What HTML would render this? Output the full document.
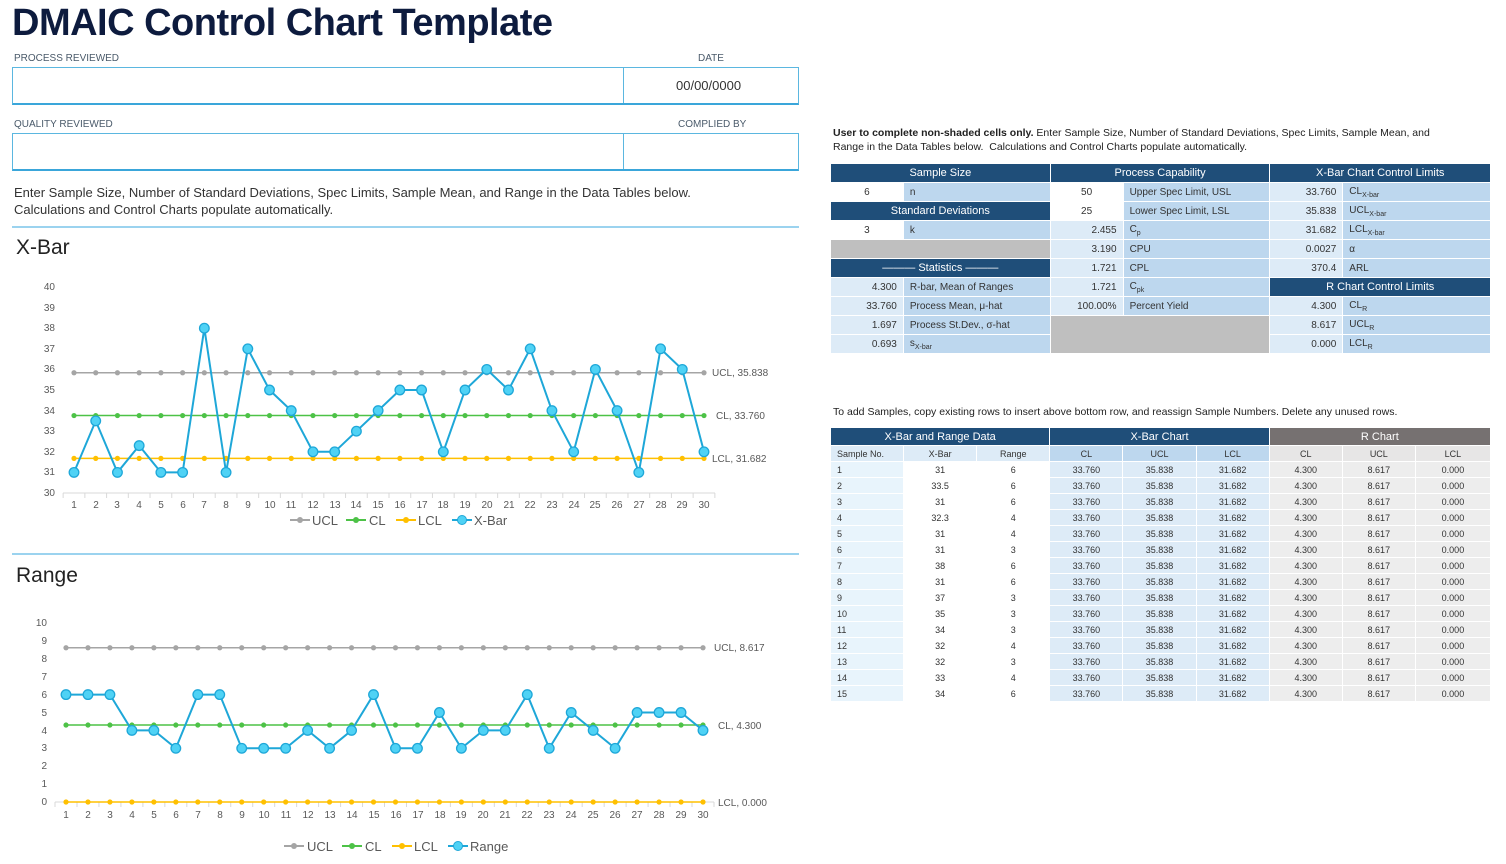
<!DOCTYPE html>
<html><head><meta charset="utf-8"><style>
body{margin:0;width:1506px;height:864px;background:#fff;font-family:"Liberation Sans",sans-serif;position:relative;overflow:hidden;color:#333}
.a{position:absolute}
h1{position:absolute;left:12px;top:2px;margin:0;font-size:38px;font-weight:bold;color:#0d1b3e;letter-spacing:-0.5px}
.lbl{font-size:10px;color:#4a5a6a}
.box{position:absolute;border:1px solid #5bb7e0;border-bottom:2px solid #3aa6da}
table{border-collapse:collapse;position:absolute;font-size:10px}
td{padding:0 6px;white-space:nowrap;border:1px solid #fff}
.h{background:#1f4e79;color:#fff;text-align:center;font-size:11px}
.w{background:#fff}.lb{background:#bdd7ee}.ll{background:#ddebf7}.g{background:#bfbfbf}
.r{text-align:right}.c{text-align:center}
sub{font-size:7px}
</style></head><body>
<h1>DMAIC Control Chart Template</h1>
<div class="a lbl" style="left:14px;top:53px">PROCESS REVIEWED</div>
<div class="a lbl" style="left:698px;top:53px">DATE</div>
<div class="box" style="left:12px;top:67px;width:785px;height:35px"></div>
<div class="a" style="left:623px;top:67px;width:1px;height:36px;background:#5bb7e0"></div>
<div class="a" style="left:676px;top:78px;font-size:13px">00/00/0000</div>
<div class="a lbl" style="left:14px;top:119px">QUALITY REVIEWED</div>
<div class="a lbl" style="left:678px;top:119px">COMPLIED BY</div>
<div class="box" style="left:12px;top:133px;width:785px;height:35px"></div>
<div class="a" style="left:623px;top:133px;width:1px;height:36px;background:#5bb7e0"></div>
<div class="a" style="left:14px;top:184px;font-size:13px;line-height:17px">Enter Sample Size, Number of Standard Deviations, Spec Limits, Sample Mean, and Range in the Data Tables below.<br>Calculations and Control Charts populate automatically.</div>
<div class="a" style="left:12px;top:226px;width:787px;height:2px;background:#9bd3ef"></div>
<div class="a" style="left:16px;top:236px;font-size:21px;color:#222">X-Bar</div>
<div class="a" style="left:12px;top:553px;width:787px;height:2px;background:#9bd3ef"></div>
<div class="a" style="left:16px;top:564px;font-size:21px;color:#222">Range</div>

<svg class="a" style="left:0;top:0" width="830" height="864" font-family="Liberation Sans, sans-serif" font-size="10" fill="#595959">
<g id="xb"></g><g id="rg"></g>
<g text-anchor="end">
<text x="55" y="290">40</text><text x="55" y="311">39</text><text x="55" y="331">38</text><text x="55" y="352">37</text><text x="55" y="372">36</text><text x="55" y="393">35</text><text x="55" y="414">34</text><text x="55" y="434">33</text><text x="55" y="455">32</text><text x="55" y="475">31</text><text x="55" y="496">30</text>
<text x="47" y="626">10</text><text x="47" y="644">9</text><text x="47" y="662">8</text><text x="47" y="680">7</text><text x="47" y="698">6</text><text x="47" y="716">5</text><text x="47" y="734">4</text><text x="47" y="751">3</text><text x="47" y="769">2</text><text x="47" y="787">1</text><text x="47" y="805">0</text>
</g>
<g text-anchor="middle" id="xl"></g>
<text x="712" y="376">UCL, 35.838</text><text x="716" y="419">CL, 33.760</text><text x="712" y="462">LCL, 31.682</text>
<text x="714" y="651">UCL, 8.617</text><text x="718" y="729">CL, 4.300</text><text x="718" y="806">LCL, 0.000</text>
<g font-size="13">
<line x1="290" y1="520" x2="310" y2="520" stroke="#a5a5a5" stroke-width="2"/><circle cx="300" cy="520" r="3" fill="#a5a5a5"/><text x="312" y="525">UCL</text>
<line x1="346" y1="520" x2="366" y2="520" stroke="#4dc247" stroke-width="2"/><circle cx="356" cy="520" r="3" fill="#4dc247"/><text x="369" y="525">CL</text>
<line x1="396" y1="520" x2="416" y2="520" stroke="#ffc000" stroke-width="2"/><circle cx="406" cy="520" r="3" fill="#ffc000"/><text x="418" y="525">LCL</text>
<line x1="452" y1="520" x2="472" y2="520" stroke="#1ea7d8" stroke-width="2"/><circle cx="462" cy="520" r="4.5" fill="#4fd2f5" stroke="#1ea7d8"/><text x="474" y="525">X-Bar</text>
<line x1="284" y1="846" x2="304" y2="846" stroke="#a5a5a5" stroke-width="2"/><circle cx="294" cy="846" r="3" fill="#a5a5a5"/><text x="307" y="851">UCL</text>
<line x1="342" y1="846" x2="362" y2="846" stroke="#4dc247" stroke-width="2"/><circle cx="352" cy="846" r="3" fill="#4dc247"/><text x="365" y="851">CL</text>
<line x1="392" y1="846" x2="412" y2="846" stroke="#ffc000" stroke-width="2"/><circle cx="402" cy="846" r="3" fill="#ffc000"/><text x="414" y="851">LCL</text>
<line x1="448" y1="846" x2="468" y2="846" stroke="#1ea7d8" stroke-width="2"/><circle cx="458" cy="846" r="4.5" fill="#4fd2f5" stroke="#1ea7d8"/><text x="470" y="851">Range</text>
</g>
<g id="xl1" text-anchor="middle">
<text x="74" y="508">1</text><text x="96" y="508">2</text><text x="117" y="508">3</text><text x="139" y="508">4</text><text x="161" y="508">5</text><text x="183" y="508">6</text><text x="204" y="508">7</text><text x="226" y="508">8</text><text x="248" y="508">9</text><text x="270" y="508">10</text><text x="291" y="508">11</text><text x="313" y="508">12</text><text x="335" y="508">13</text><text x="356" y="508">14</text><text x="378" y="508">15</text><text x="400" y="508">16</text><text x="422" y="508">17</text><text x="443" y="508">18</text><text x="465" y="508">19</text><text x="487" y="508">20</text><text x="509" y="508">21</text><text x="530" y="508">22</text><text x="552" y="508">23</text><text x="574" y="508">24</text><text x="595" y="508">25</text><text x="617" y="508">26</text><text x="639" y="508">27</text><text x="661" y="508">28</text><text x="682" y="508">29</text><text x="704" y="508">30</text>
<text x="66" y="818">1</text><text x="88" y="818">2</text><text x="110" y="818">3</text><text x="132" y="818">4</text><text x="154" y="818">5</text><text x="176" y="818">6</text><text x="198" y="818">7</text><text x="220" y="818">8</text><text x="242" y="818">9</text><text x="264" y="818">10</text><text x="286" y="818">11</text><text x="308" y="818">12</text><text x="330" y="818">13</text><text x="352" y="818">14</text><text x="374" y="818">15</text><text x="396" y="818">16</text><text x="418" y="818">17</text><text x="440" y="818">18</text><text x="461" y="818">19</text><text x="483" y="818">20</text><text x="505" y="818">21</text><text x="527" y="818">22</text><text x="549" y="818">23</text><text x="571" y="818">24</text><text x="593" y="818">25</text><text x="615" y="818">26</text><text x="637" y="818">27</text><text x="659" y="818">28</text><text x="681" y="818">29</text><text x="703" y="818">30</text>
</g>
</svg>
<script>
(function(){
var NS="http://www.w3.org/2000/svg";
function el(p,t,a){var e=document.createElementNS(NS,t);for(var k in a)e.setAttribute(k,a[k]);p.appendChild(e);return e;}
function chart(g,x0,dx,yf,data,ucl,cl,lcl,axL,axR,axY){
 el(g,'line',{x1:axL,y1:axY,x2:axR,y2:axY,stroke:'#d9d9d9','stroke-width':1});
 for(var i=0;i<=30;i++){var x=x0-dx/2+i*dx;el(g,'line',{x1:x,y1:axY,x2:x,y2:axY+5,stroke:'#d9d9d9'});}
 [[ucl,'#a5a5a5'],[cl,'#4dc247'],[lcl,'#ffc000']].forEach(function(s){
  var y=yf(s[0]);el(g,'line',{x1:x0,y1:y,x2:x0+29*dx,y2:y,stroke:s[1],'stroke-width':1.5});
  for(var i=0;i<30;i++)el(g,'circle',{cx:x0+i*dx,cy:y,r:2.6,fill:s[1]});
 });
 var pts=data.map(function(v,i){return (x0+i*dx)+','+yf(v);}).join(' ');
 el(g,'polyline',{points:pts,fill:'none',stroke:'#1ea7d8','stroke-width':2});
 data.forEach(function(v,i){el(g,'circle',{cx:x0+i*dx,cy:yf(v),r:4.8,fill:'#4fd2f5',stroke:'#1ea7d8','stroke-width':1.3});});
}
var xb=[31,33.5,31,32.3,31,31,38,31,37,35,34,32,32,33,34,35,35,32,35,36,35,37,34,32,36,34,31,37,36,32];
var rg=[6,6,6,4,4,3,6,6,3,3,3,4,3,4,6,3,3,5,3,4,4,6,3,5,4,3,5,5,5,4];
chart(document.getElementById('xb'),74,630/29,function(v){return 493-(v-30)*20.6;},xb,35.838,33.76,31.682,63,715,493);
chart(document.getElementById('rg'),66,637/29,function(v){return 802-v*17.9;},rg,8.617,4.3,0,55,714,802);
})();
</script>

<div class="a" style="left:833px;top:126px;font-size:10.5px;line-height:14px;color:#222"><b>User to complete non-shaded cells only.</b> Enter Sample Size, Number of Standard Deviations, Spec Limits, Sample Mean, and<br>Range in the Data Tables below.&nbsp; Calculations and Control Charts populate automatically.</div>

<table style="left:830px;top:163px;width:661px">
<colgroup><col style="width:73px"><col style="width:147px"><col style="width:73px"><col style="width:147px"><col style="width:73px"><col style="width:148px"></colgroup>
<tr style="height:19px"><td class="h" colspan="2">Sample Size</td><td class="h" colspan="2">Process Capability</td><td class="h" colspan="2">X-Bar Chart Control Limits</td></tr>
<tr style="height:19px"><td class="w c">6</td><td class="lb">n</td><td class="w c">50</td><td class="lb">Upper Spec Limit, USL</td><td class="ll r">33.760</td><td class="lb">CL<sub>X-bar</sub></td></tr>
<tr style="height:19px"><td class="h" colspan="2">Standard Deviations</td><td class="w c">25</td><td class="lb">Lower Spec Limit, LSL</td><td class="ll r">35.838</td><td class="lb">UCL<sub>X-bar</sub></td></tr>
<tr style="height:19px"><td class="w c">3</td><td class="lb">k</td><td class="ll r">2.455</td><td class="lb">C<sub>p</sub></td><td class="ll r">31.682</td><td class="lb">LCL<sub>X-bar</sub></td></tr>
<tr style="height:19px"><td class="g" colspan="2"></td><td class="ll r">3.190</td><td class="lb">CPU</td><td class="ll r">0.0027</td><td class="lb">α</td></tr>
<tr style="height:19px"><td class="h" colspan="2">——— Statistics ———</td><td class="ll r">1.721</td><td class="lb">CPL</td><td class="ll r">370.4</td><td class="lb">ARL</td></tr>
<tr style="height:19px"><td class="ll r">4.300</td><td class="lb">R-bar, Mean of Ranges</td><td class="ll r">1.721</td><td class="lb">C<sub>pk</sub></td><td class="h" colspan="2">R Chart Control Limits</td></tr>
<tr style="height:19px"><td class="ll r">33.760</td><td class="lb">Process Mean, μ-hat</td><td class="ll r">100.00%</td><td class="lb">Percent Yield</td><td class="ll r">4.300</td><td class="lb">CL<sub>R</sub></td></tr>
<tr style="height:19px"><td class="ll r">1.697</td><td class="lb">Process St.Dev., σ-hat</td><td class="g" colspan="2" rowspan="2"></td><td class="ll r">8.617</td><td class="lb">UCL<sub>R</sub></td></tr>
<tr style="height:19px"><td class="ll r">0.693</td><td class="lb">s<sub>X-bar</sub></td><td class="ll r">0.000</td><td class="lb">LCL<sub>R</sub></td></tr>
</table>

<div class="a" style="left:833px;top:406px;font-size:10.5px;color:#222">To add Samples, copy existing rows to insert above bottom row, and reassign Sample Numbers. Delete any unused rows.</div>

<table style="left:830px;top:427px;width:661px;font-size:9px" id="dt">
<colgroup><col style="width:73px"><col style="width:73px"><col style="width:73px"><col style="width:73px"><col style="width:73px"><col style="width:73px"><col style="width:73px"><col style="width:73px"><col style="width:75px"></colgroup>
<tr style="height:18px"><td class="h" colspan="3">X-Bar and Range Data</td><td class="h" colspan="3">X-Bar Chart</td><td class="h" colspan="3" style="background:#767171">R Chart</td></tr>
<tr style="height:16px"><td class="ll">Sample No.</td><td class="ll c">X-Bar</td><td class="ll c">Range</td><td class="lb c">CL</td><td class="lb c">UCL</td><td class="lb c">LCL</td><td class="c" style="background:#e7e6e6">CL</td><td class="c" style="background:#e7e6e6">UCL</td><td class="c" style="background:#e7e6e6">LCL</td></tr>
<tr style="height:16px"><td style="background:#e8f4fc">1</td><td class="w c">31</td><td class="w c">6</td><td class="ll c">33.760</td><td class="ll c">35.838</td><td class="ll c">31.682</td><td class="c" style="background:#ededed">4.300</td><td class="c" style="background:#ededed">8.617</td><td class="c" style="background:#ededed">0.000</td></tr>
<tr style="height:16px"><td style="background:#e8f4fc">2</td><td class="w c">33.5</td><td class="w c">6</td><td class="ll c">33.760</td><td class="ll c">35.838</td><td class="ll c">31.682</td><td class="c" style="background:#ededed">4.300</td><td class="c" style="background:#ededed">8.617</td><td class="c" style="background:#ededed">0.000</td></tr>
<tr style="height:16px"><td style="background:#e8f4fc">3</td><td class="w c">31</td><td class="w c">6</td><td class="ll c">33.760</td><td class="ll c">35.838</td><td class="ll c">31.682</td><td class="c" style="background:#ededed">4.300</td><td class="c" style="background:#ededed">8.617</td><td class="c" style="background:#ededed">0.000</td></tr>
<tr style="height:16px"><td style="background:#e8f4fc">4</td><td class="w c">32.3</td><td class="w c">4</td><td class="ll c">33.760</td><td class="ll c">35.838</td><td class="ll c">31.682</td><td class="c" style="background:#ededed">4.300</td><td class="c" style="background:#ededed">8.617</td><td class="c" style="background:#ededed">0.000</td></tr>
<tr style="height:16px"><td style="background:#e8f4fc">5</td><td class="w c">31</td><td class="w c">4</td><td class="ll c">33.760</td><td class="ll c">35.838</td><td class="ll c">31.682</td><td class="c" style="background:#ededed">4.300</td><td class="c" style="background:#ededed">8.617</td><td class="c" style="background:#ededed">0.000</td></tr>
<tr style="height:16px"><td style="background:#e8f4fc">6</td><td class="w c">31</td><td class="w c">3</td><td class="ll c">33.760</td><td class="ll c">35.838</td><td class="ll c">31.682</td><td class="c" style="background:#ededed">4.300</td><td class="c" style="background:#ededed">8.617</td><td class="c" style="background:#ededed">0.000</td></tr>
<tr style="height:16px"><td style="background:#e8f4fc">7</td><td class="w c">38</td><td class="w c">6</td><td class="ll c">33.760</td><td class="ll c">35.838</td><td class="ll c">31.682</td><td class="c" style="background:#ededed">4.300</td><td class="c" style="background:#ededed">8.617</td><td class="c" style="background:#ededed">0.000</td></tr>
<tr style="height:16px"><td style="background:#e8f4fc">8</td><td class="w c">31</td><td class="w c">6</td><td class="ll c">33.760</td><td class="ll c">35.838</td><td class="ll c">31.682</td><td class="c" style="background:#ededed">4.300</td><td class="c" style="background:#ededed">8.617</td><td class="c" style="background:#ededed">0.000</td></tr>
<tr style="height:16px"><td style="background:#e8f4fc">9</td><td class="w c">37</td><td class="w c">3</td><td class="ll c">33.760</td><td class="ll c">35.838</td><td class="ll c">31.682</td><td class="c" style="background:#ededed">4.300</td><td class="c" style="background:#ededed">8.617</td><td class="c" style="background:#ededed">0.000</td></tr>
<tr style="height:16px"><td style="background:#e8f4fc">10</td><td class="w c">35</td><td class="w c">3</td><td class="ll c">33.760</td><td class="ll c">35.838</td><td class="ll c">31.682</td><td class="c" style="background:#ededed">4.300</td><td class="c" style="background:#ededed">8.617</td><td class="c" style="background:#ededed">0.000</td></tr>
<tr style="height:16px"><td style="background:#e8f4fc">11</td><td class="w c">34</td><td class="w c">3</td><td class="ll c">33.760</td><td class="ll c">35.838</td><td class="ll c">31.682</td><td class="c" style="background:#ededed">4.300</td><td class="c" style="background:#ededed">8.617</td><td class="c" style="background:#ededed">0.000</td></tr>
<tr style="height:16px"><td style="background:#e8f4fc">12</td><td class="w c">32</td><td class="w c">4</td><td class="ll c">33.760</td><td class="ll c">35.838</td><td class="ll c">31.682</td><td class="c" style="background:#ededed">4.300</td><td class="c" style="background:#ededed">8.617</td><td class="c" style="background:#ededed">0.000</td></tr>
<tr style="height:16px"><td style="background:#e8f4fc">13</td><td class="w c">32</td><td class="w c">3</td><td class="ll c">33.760</td><td class="ll c">35.838</td><td class="ll c">31.682</td><td class="c" style="background:#ededed">4.300</td><td class="c" style="background:#ededed">8.617</td><td class="c" style="background:#ededed">0.000</td></tr>
<tr style="height:16px"><td style="background:#e8f4fc">14</td><td class="w c">33</td><td class="w c">4</td><td class="ll c">33.760</td><td class="ll c">35.838</td><td class="ll c">31.682</td><td class="c" style="background:#ededed">4.300</td><td class="c" style="background:#ededed">8.617</td><td class="c" style="background:#ededed">0.000</td></tr>
<tr style="height:16px"><td style="background:#e8f4fc">15</td><td class="w c">34</td><td class="w c">6</td><td class="ll c">33.760</td><td class="ll c">35.838</td><td class="ll c">31.682</td><td class="c" style="background:#ededed">4.300</td><td class="c" style="background:#ededed">8.617</td><td class="c" style="background:#ededed">0.000</td></tr>
</table>
</body></html>
